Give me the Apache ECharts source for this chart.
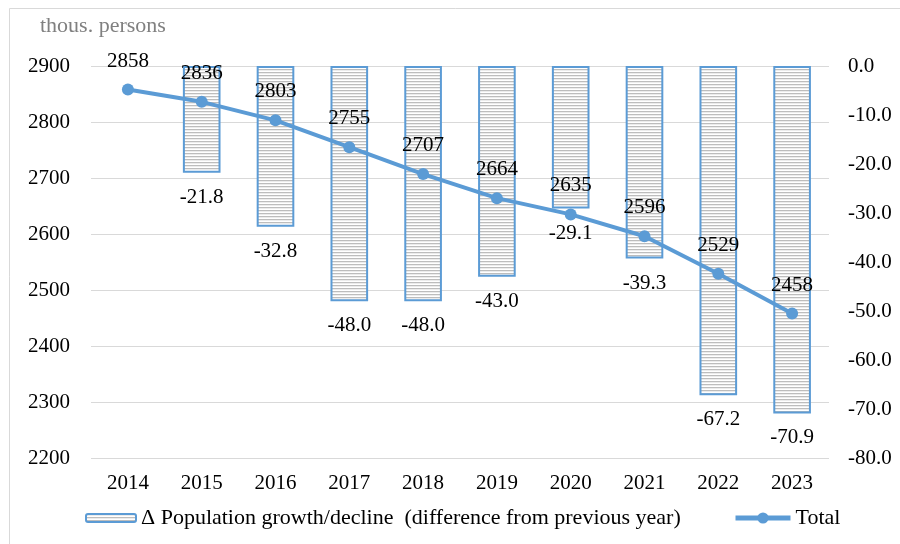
<!DOCTYPE html>
<html>
<head>
<meta charset="utf-8">
<script src="https://cdn.jsdelivr.net/npm/echarts@6/dist/echarts.min.js"></script>
<style>
  html, body { margin: 0; padding: 0; background: #fff; }
  #chart { width: 900px; height: 544px; }
</style>
</head>
<body>
<div id="chart"></div>
<script>
// Population of the region, thousand persons, and the yearly change
var years = ['2014', '2015', '2016', '2017', '2018', '2019', '2020', '2021', '2022', '2023'];
var totalPopulation = [2858, 2836, 2803, 2755, 2707, 2664, 2635, 2596, 2529, 2458];
var yearlyChange = [null, -21.8, -32.8, -48.0, -48.0, -43.0, -29.1, -39.3, -67.2, -70.9];
var leftTicks = { min: 2200, max: 2900, step: 100 };
var rightTicks = { min: -80, max: 0, step: 10 };

var FONT = 'Liberation Serif';
var BLUE = '#5b9bd5';
var CHANGE_NAME = '\u0394 Population growth/decline  (difference from previous year)';
var TOTAL_NAME = 'Total';

// Horizontal hatching used to fill the change bars
function stripeCanvas() {
  var c = document.createElement('canvas');
  c.width = 8; c.height = 3;
  var g = c.getContext('2d');
  g.fillStyle = '#ffffff';
  g.fillRect(0, 0, 8, 3);
  g.fillStyle = '#bdbdbd';
  g.fillRect(0, 0, 8, 1);
  g.fillStyle = '#ececec';
  g.fillRect(0, 1, 8, 1);
  return c;
}
var stripes = { image: stripeCanvas(), repeat: 'repeat' };

var chart = echarts.init(document.getElementById('chart'), null, { renderer: 'canvas' });

chart.setOption({
  animation: false,
  backgroundColor: '#ffffff',
  textStyle: { fontFamily: FONT, color: '#000' },
  graphic: [
    {
      type: 'rect',
      shape: { x: 9.5, y: 8.5, width: 900, height: 600 },
      style: { fill: 'none', stroke: '#d9d9d9', lineWidth: 1 },
      silent: true
    },
    {
      type: 'text',
      left: 40, top: 15,
      style: { text: 'thous. persons', font: '22px "Liberation Serif"', fill: '#808080' }
    }
  ],
  grid: { left: 91, right: 71, top: 66, bottom: 86, containLabel: false },
  legend: [
    {
      left: 80,
      top: 502,
      itemWidth: 50,
      itemHeight: 8,
      textStyle: { fontFamily: FONT, fontSize: 22, color: '#000' },
      data: [{ name: CHANGE_NAME }]
    },
    {
      left: 728,
      top: 502,
      itemWidth: 55,
      itemHeight: 14,
      textStyle: { fontFamily: FONT, fontSize: 22, color: '#000' },
      data: [{ name: TOTAL_NAME, lineStyle: { width: 5 } }]
    }
  ],
  xAxis: {
    type: 'category',
    data: years,
    boundaryGap: true,
    axisLine: { show: false },
    axisTick: { show: false },
    axisLabel: { fontFamily: FONT, fontSize: 21, color: '#000', margin: 15 }
  },
  yAxis: [
    {
      type: 'value',
      min: leftTicks.min, max: leftTicks.max, interval: leftTicks.step,
      axisLine: { show: false },
      axisTick: { show: false },
      splitLine: { lineStyle: { color: '#d9d9d9', width: 1 } },
      axisLabel: {
        fontFamily: FONT, fontSize: 21, color: '#000', margin: 21,
        formatter: function (v) { return String(v); }
      }
    },
    {
      type: 'value',
      min: rightTicks.min, max: rightTicks.max, interval: rightTicks.step,
      axisLine: { show: false },
      axisTick: { show: false },
      splitLine: { show: false },
      axisLabel: {
        fontFamily: FONT, fontSize: 21, color: '#000', margin: 19,
        formatter: function (v) { return v.toFixed(1); }
      }
    }
  ],
  series: [
    {
      name: CHANGE_NAME,
      type: 'bar',
      yAxisIndex: 1,
      data: yearlyChange,
      barWidth: '51%',
      itemStyle: { color: stripes, borderColor: BLUE, borderWidth: 2 },
      label: {
        show: true,
        position: 'bottom',
        distance: 14,
        fontFamily: FONT, fontSize: 21, color: '#000',
        formatter: function (p) { return p.value == null ? '' : Number(p.value).toFixed(1); }
      },
      z: 2
    },
    {
      name: TOTAL_NAME,
      type: 'line',
      yAxisIndex: 0,
      data: totalPopulation,
      symbol: 'circle',
      symbolSize: 12,
      lineStyle: { color: BLUE, width: 4 },
      itemStyle: { color: BLUE },
      label: {
        show: true,
        position: 'top',
        distance: 12,
        fontFamily: FONT, fontSize: 21, color: '#000'
      },
      z: 3
    }
  ]
});
</script>
</body>
</html>
